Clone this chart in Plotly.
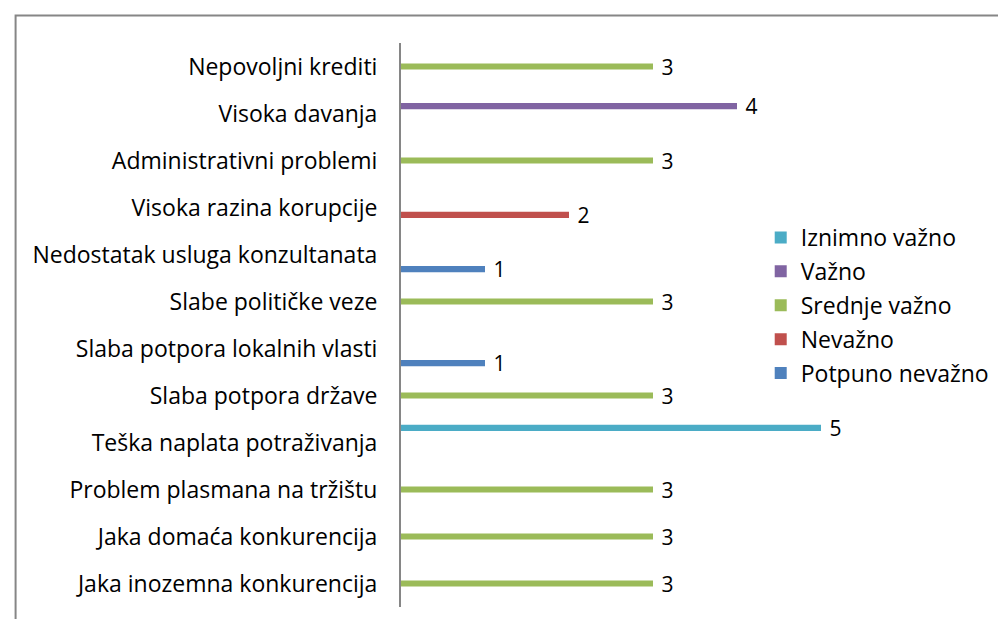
import plotly.graph_objects as go

categories = [
    "Jaka inozemna konkurencija",
    "Jaka domaća konkurencija",
    "Problem plasmana na tržištu",
    "Teška naplata potraživanja",
    "Slaba potpora države",
    "Slaba potpora lokalnih vlasti",
    "Slabe političke veze",
    "Nedostatak usluga konzultanata",
    "Visoka razina korupcije",
    "Administrativni problemi",
    "Visoka davanja",
    "Nepovoljni krediti",
]

potpuno_nevazno = [None, None, None, None, None, 1, None, 1, None, None, None, None]
nevazno = [None, None, None, None, None, None, None, None, 2, None, None, None]
srednje_vazno = [3, 3, 3, None, 3, None, 3, None, None, 3, None, 3]
vazno = [None, None, None, None, None, None, None, None, None, None, 4, None]
iznimno_vazno = [None, None, None, 5, None, None, None, None, None, None, None, None]

series = [
    ("Potpuno nevažno", potpuno_nevazno, "#4F81BD"),
    ("Nevažno", nevazno, "#C0504D"),
    ("Srednje važno", srednje_vazno, "#9BBB59"),
    ("Važno", vazno, "#8064A2"),
    ("Iznimno važno", iznimno_vazno, "#4BACC6"),
]

FONT = "Open Sans"
FS = 23
fig = go.Figure()
for i, (name, vals, color) in enumerate(series):
    fig.add_trace(go.Bar(
        y=categories, x=vals, name=name, orientation="h",
        marker=dict(color=color, line=dict(width=0)),
        text=[("" if v is None else f" {v}") for v in vals],
        textposition="outside", cliponaxis=False, constraintext="none",
        textfont=dict(family=FONT, size=21, color="#000000"),
        legendgroup=name, legendrank=len(series) - i,
    ))

# page is offset by the 8px body margin; coordinates below are page pixels
OFF = 8
W, H = 1006 - OFF, 619 - OFF
L, R, T, B = 401 - OFF, 95, 43 - OFF, 12
pw = W - L - R
ph = H - T - B

def px_x(p):
    return (p - OFF - L) / pw

def px_y(p):
    return (H + OFF - B - p) / ph

fig.update_layout(
    width=W, height=H,
    margin=dict(l=L, r=R, t=T, b=B, pad=0),
    plot_bgcolor="white", paper_bgcolor="white",
    barmode="group", bargap=0.22, bargroupgap=0.15,
    font=dict(family=FONT, size=FS, color="#000000"),
    xaxis=dict(range=[0, 6], showticklabels=False, showgrid=False,
               zeroline=False, showline=False, ticks=""),
    yaxis=dict(type="category", categoryorder="array", categoryarray=categories,
               showgrid=False, zeroline=False, showline=True,
               linecolor="#868686", linewidth=2, ticks="",
               ticklabelstandoff=17,
               tickfont=dict(family=FONT, size=FS, color="#000000")),
    showlegend=True,
    legend=dict(traceorder="grouped", tracegroupgap=1,
                x=px_x(765), xanchor="left", y=px_y(216), yanchor="top",
                bgcolor="rgba(0,0,0,0)", borderwidth=0,
                font=dict(family=FONT, size=FS, color="#000000"),
                itemwidth=30),
    shapes=[dict(type="rect", xref="paper", yref="paper",
                 x0=px_x(11), x1=px_x(1200), y0=px_y(15.5), y1=px_y(800),
                 line=dict(color="#868686", width=2), layer="below")],
)

fig.write_html("out.html")
